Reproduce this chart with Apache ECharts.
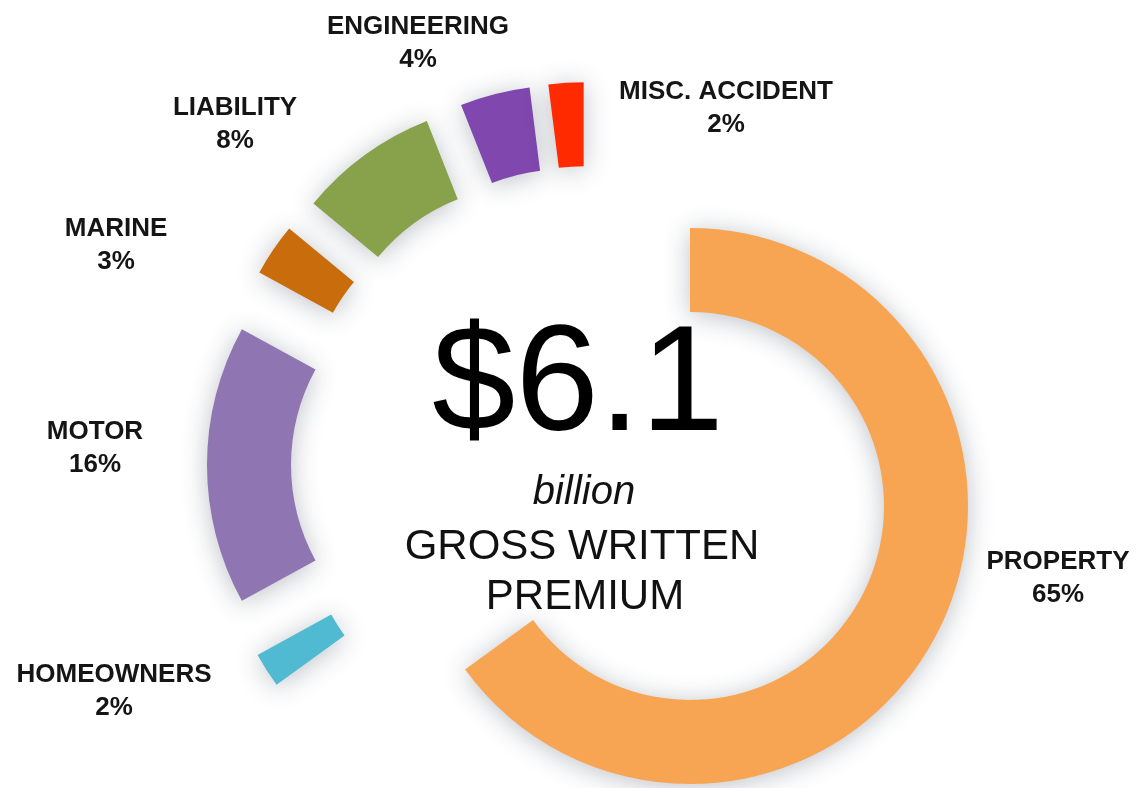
<!DOCTYPE html>
<html>
<head>
<meta charset="utf-8">
<script src="https://cdn.jsdelivr.net/npm/echarts@6/dist/echarts.min.js"></script>
<style>
html,body{margin:0;padding:0;background:#fff;}
#chart{width:1145px;height:788px;}
</style>
</head>
<body>
<div id="chart"></div>
<script>
// ---- data ----
const categories = ['PROPERTY', 'HOMEOWNERS', 'MOTOR', 'MARINE', 'LIABILITY', 'ENGINEERING', 'MISC. ACCIDENT'];
const shares = [65, 2, 16, 3, 8, 4, 2];
const colors = ['#F7A553', '#4FBAD1', '#8F75B2', '#C96C0B', '#88A24B', '#8047AF', '#FF2A00'];
const centerTexts = ['$6.1', 'billion', 'GROSS WRITTEN', 'PREMIUM'];

// ---- layout (positions / sizes only) ----
const labelPos = [[1058, 578], [114, 691], [95, 448], [116, 245], [235, 124], [418, 43], [726, 108]];
const mainIndex = 0; // the large slice drawn in place, the rest pulled out

const chart = echarts.init(document.getElementById('chart'));

const shadow = {
  shadowBlur: 26,
  shadowColor: 'rgba(40,50,70,0.30)',
  shadowOffsetX: 0,
  shadowOffsetY: 3
};
const hidden = { color: 'rgba(0,0,0,0)', shadowBlur: 0, shadowColor: 'rgba(0,0,0,0)' };

function buildData(showMain) {
  return categories.map((c, i) => {
    const visible = showMain ? i === mainIndex : i !== mainIndex;
    const st = visible ? Object.assign({ color: colors[i] }, shadow) : hidden;
    return {
      name: c,
      value: shares[i],
      selected: !showMain && visible,
      itemStyle: st,
      select: { itemStyle: st }
    };
  });
}

const labelFont = 'bold 26px "Liberation Sans", Arial, sans-serif';
const labelGraphics = categories.map((c, i) => ({
  type: 'text', z: 100,
  style: {
    x: labelPos[i][0], y: labelPos[i][1],
    text: c + '\n' + shares[i] + '%',
    fill: '#151515', align: 'center', verticalAlign: 'middle',
    font: labelFont, lineHeight: 33
  }
}));

const common = {
  type: 'pie',
  startAngle: 90,
  clockwise: true,
  avoidLabelOverlap: false,
  silent: true,
  label: { show: false },
  labelLine: { show: false }
};

chart.setOption({
  animation: false,
  backgroundColor: '#ffffff',
  series: [
    Object.assign({}, common, {
      center: [690, 506],
      radius: [194, 278],
      data: buildData(true)
    }),
    Object.assign({}, common, {
      center: [590, 465],
      radius: [198, 282],
      selectedMode: 'multiple',
      selectedOffset: 101,
      data: buildData(false)
    })
  ],
  graphic: labelGraphics.concat([
    { type: 'text', z: 100, style: { x: 578, y: 389, text: centerTexts[0], fill: '#000', align: 'center', verticalAlign: 'middle', font: '150px "Liberation Sans", Arial, sans-serif' } },
    { type: 'text', z: 100, style: { x: 584, y: 493, text: centerTexts[1], fill: '#111', align: 'center', verticalAlign: 'middle', font: 'italic 40px "Liberation Sans", Arial, sans-serif' } },
    { type: 'text', z: 100, style: { x: 582, y: 547, text: centerTexts[2], fill: '#111', align: 'center', verticalAlign: 'middle', font: '42px "Liberation Sans", Arial, sans-serif' } },
    { type: 'text', z: 100, style: { x: 585, y: 597, text: centerTexts[3], fill: '#111', align: 'center', verticalAlign: 'middle', font: '42px "Liberation Sans", Arial, sans-serif' } }
  ])
});
</script>
</body>
</html>
